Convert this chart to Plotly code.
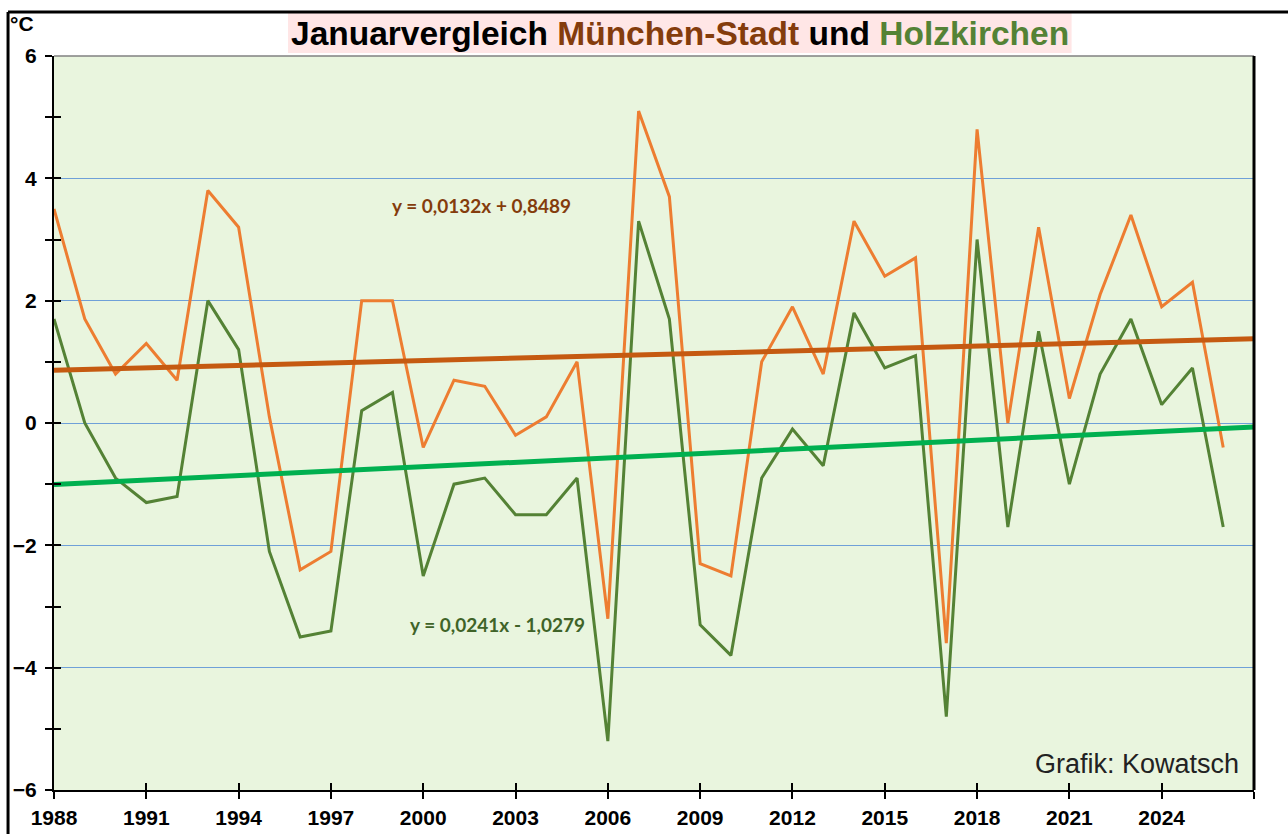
"""Januarvergleich München-Stadt und Holzkirchen — Linienchart mit Trendlinien."""

import plotly.graph_objects as go

# Jahre (Kategorien)
years = list(range(1988, 2027))

# Januar-Mitteltemperaturen in °C
muenchen = [
    3.5, 1.7, 0.8, 1.3, 0.7, 3.8, 3.2, 0.1, -2.4, -2.1,
    2.0, 2.0, -0.4, 0.7, 0.6, -0.2, 0.1, 1.0, -3.2, 5.1,
    3.7, -2.3, -2.5, 1.0, 1.9, 0.8, 3.3, 2.4, 2.7, -3.6,
    4.8, 0.0, 3.2, 0.4, 2.1, 3.4, 1.9, 2.3, -0.4,
]
holzkirchen = [
    1.7, 0.0, -0.9, -1.3, -1.2, 2.0, 1.2, -2.1, -3.5, -3.4,
    0.2, 0.5, -2.5, -1.0, -0.9, -1.5, -1.5, -0.9, -5.2, 3.3,
    1.7, -3.3, -3.8, -0.9, -0.1, -0.7, 1.8, 0.9, 1.1, -4.8,
    3.0, -1.7, 1.5, -1.0, 0.8, 1.7, 0.3, 0.9, -1.7,
]

# Trendlinien (Excel-Formeln, x = 1 für 1988)
trend_m = (0.0132, 0.8489)
trend_h = (0.0241, -1.0279)
trend_years = [1988, 2027]

x_tickvals = list(range(1988, 2028, 3))
x_ticktext = [str(y) if y <= 2024 else "" for y in x_tickvals]

# Farben
C_MUE = "#ED7D31"
C_MUE_TREND = "#C55A11"
C_MUE_TEXT = "#843C0C"
C_HOLZ = "#548235"
C_HOLZ_TREND = "#00B050"
C_HOLZ_TEXT = "#3F6328"
BG = "#E9F5DE"
GRID = "#6FA0D8"

FONT = "Liberation Sans, Arial"


def trend(coef, yrs):
    m, b = coef
    return [m * (y - 1987) + b for y in yrs]


fig = go.Figure()

fig.add_trace(go.Scatter(
    x=years, y=muenchen, mode="lines",
    line={"color": C_MUE, "width": 3},
    name="München-Stadt",
))
fig.add_trace(go.Scatter(
    x=years, y=holzkirchen, mode="lines",
    line={"color": C_HOLZ, "width": 3},
    name="Holzkirchen",
))
# Trendlinien auf Overlay-Achsen (liegen oben, liefern innere Ticks)
fig.add_trace(go.Scatter(
    x=trend_years, y=trend(trend_m, trend_years), mode="lines",
    line={"color": C_MUE_TREND, "width": 5},
    xaxis="x2", yaxis="y2", hoverinfo="skip",
))
fig.add_trace(go.Scatter(
    x=trend_years, y=trend(trend_h, trend_years), mode="lines",
    line={"color": C_HOLZ_TREND, "width": 5},
    xaxis="x2", yaxis="y2", hoverinfo="skip",
))

tick_font = {"family": FONT, "size": 21, "color": "black", "weight": "bold"}

fig.update_layout(
    width=1288, height=834,
    margin={"l": 54, "r": 34, "t": 56, "b": 44},
    paper_bgcolor="white",
    plot_bgcolor=BG,
    showlegend=False,
    xaxis={
        "range": [1988, 2027], "automargin": False,
        "tickvals": x_tickvals, "ticktext": x_ticktext,
        "ticks": "outside", "ticklen": 7, "tickwidth": 2, "tickcolor": "black",
        "showline": True, "linecolor": "black", "linewidth": 2,
        "showgrid": False, "zeroline": False,
        "tickfont": tick_font, "ticklabelstandoff": 1,
    },
    yaxis={
        "range": [-6, 6], "automargin": False,
        "tickvals": list(range(-6, 7, 2)),
        "ticks": "outside", "ticklen": 7, "tickwidth": 2, "tickcolor": "black",
        "minor": {"dtick": 1, "ticks": "outside", "ticklen": 7, "tickwidth": 2,
                  "tickcolor": "black", "showgrid": False},
        "showline": True, "linecolor": "black", "linewidth": 2,
        "showgrid": True, "gridcolor": GRID, "gridwidth": 1,
        "zeroline": False,
        "tickfont": tick_font, "ticklabelstandoff": 4,
    },
    xaxis2={
        "overlaying": "x", "matches": "x", "range": [1988, 2027],
        "automargin": False,
        "tickvals": x_tickvals, "showticklabels": False,
        "ticks": "inside", "ticklen": 7, "tickwidth": 2, "tickcolor": "black",
        "showline": False, "showgrid": False, "zeroline": False,
        "side": "bottom", "anchor": "y2",
    },
    yaxis2={
        "overlaying": "y", "matches": "y", "range": [-6, 6],
        "automargin": False,
        "tickvals": list(range(-6, 7, 2)), "showticklabels": False,
        "ticks": "inside", "ticklen": 7, "tickwidth": 2, "tickcolor": "black",
        "minor": {"dtick": 1, "ticks": "inside", "ticklen": 7, "tickwidth": 2,
                  "tickcolor": "black", "showgrid": False},
        "showline": False, "showgrid": False, "zeroline": False,
        "side": "left", "anchor": "x2",
    },
)

# Rahmen: äußere Linien, Titelhintergrund, obere/rechte Plotkante
fig.add_shape(type="rect", xref="paper", yref="paper",
              x0=0.195, x1=0.848, y0=1.0041, y1=1.0599,
              fillcolor="#FFE6E6", line={"width": 0}, layer="below")
fig.add_shape(type="line", xref="paper", yref="paper",
              x0=-0.0383, x1=1.03, y0=1.0599, y1=1.0599,
              line={"color": "black", "width": 3})
fig.add_shape(type="line", xref="paper", yref="paper",
              x0=-0.0383, x1=-0.0383, y0=1.0599, y1=-0.07,
              line={"color": "black", "width": 3})
fig.add_shape(type="line", xref="paper", yref="paper",
              x0=0, x1=1, y0=1, y1=1,
              line={"color": "#808080", "width": 1.5})
fig.add_shape(type="line", xref="paper", yref="paper",
              x0=1, x1=1, y0=0, y1=1,
              line={"color": "black", "width": 3})

fig.add_annotation(
    xref="paper", yref="paper", x=0.522, y=1.030,
    xanchor="center", yanchor="middle", showarrow=False,
    text=(f"Januarvergleich <span style='color:{C_MUE_TEXT}'>München-Stadt</span>"
          f" und <span style='color:{C_HOLZ}'>Holzkirchen</span>"),
    font={"family": FONT, "size": 33.5, "color": "black", "weight": "bold"},
)
fig.add_annotation(
    xref="paper", yref="paper", x=-0.0267, y=1.0436,
    xanchor="center", yanchor="middle", showarrow=False,
    text="°C",
    font={"family": FONT, "size": 21, "color": "black", "weight": "bold"},
)
fig.add_annotation(
    x=2001.9, y=3.56, xanchor="center", yanchor="middle", showarrow=False,
    text="y = 0,0132x + 0,8489",
    font={"family": "Lato, Open Sans", "size": 19, "color": C_MUE_TEXT, "weight": "bold"},
)
fig.add_annotation(
    x=2002.4, y=-3.30, xanchor="center", yanchor="middle", showarrow=False,
    text="y = 0,0241x - 1,0279",
    font={"family": "Lato, Open Sans", "size": 19, "color": C_HOLZ_TEXT, "weight": "bold"},
)
fig.add_annotation(
    xref="paper", yref="paper", x=0.989, y=0.035,
    xanchor="right", yanchor="middle", showarrow=False,
    text="Grafik: Kowatsch",
    font={"family": FONT, "size": 27, "color": "#222222"},
)

# Seitenrand des Browsers entfernen, damit die Grafik bei (0,0) beginnt
fig.write_html(
    "out.html",
    config={"displayModeBar": False},
    post_script="document.body.style.margin='0';",
)
